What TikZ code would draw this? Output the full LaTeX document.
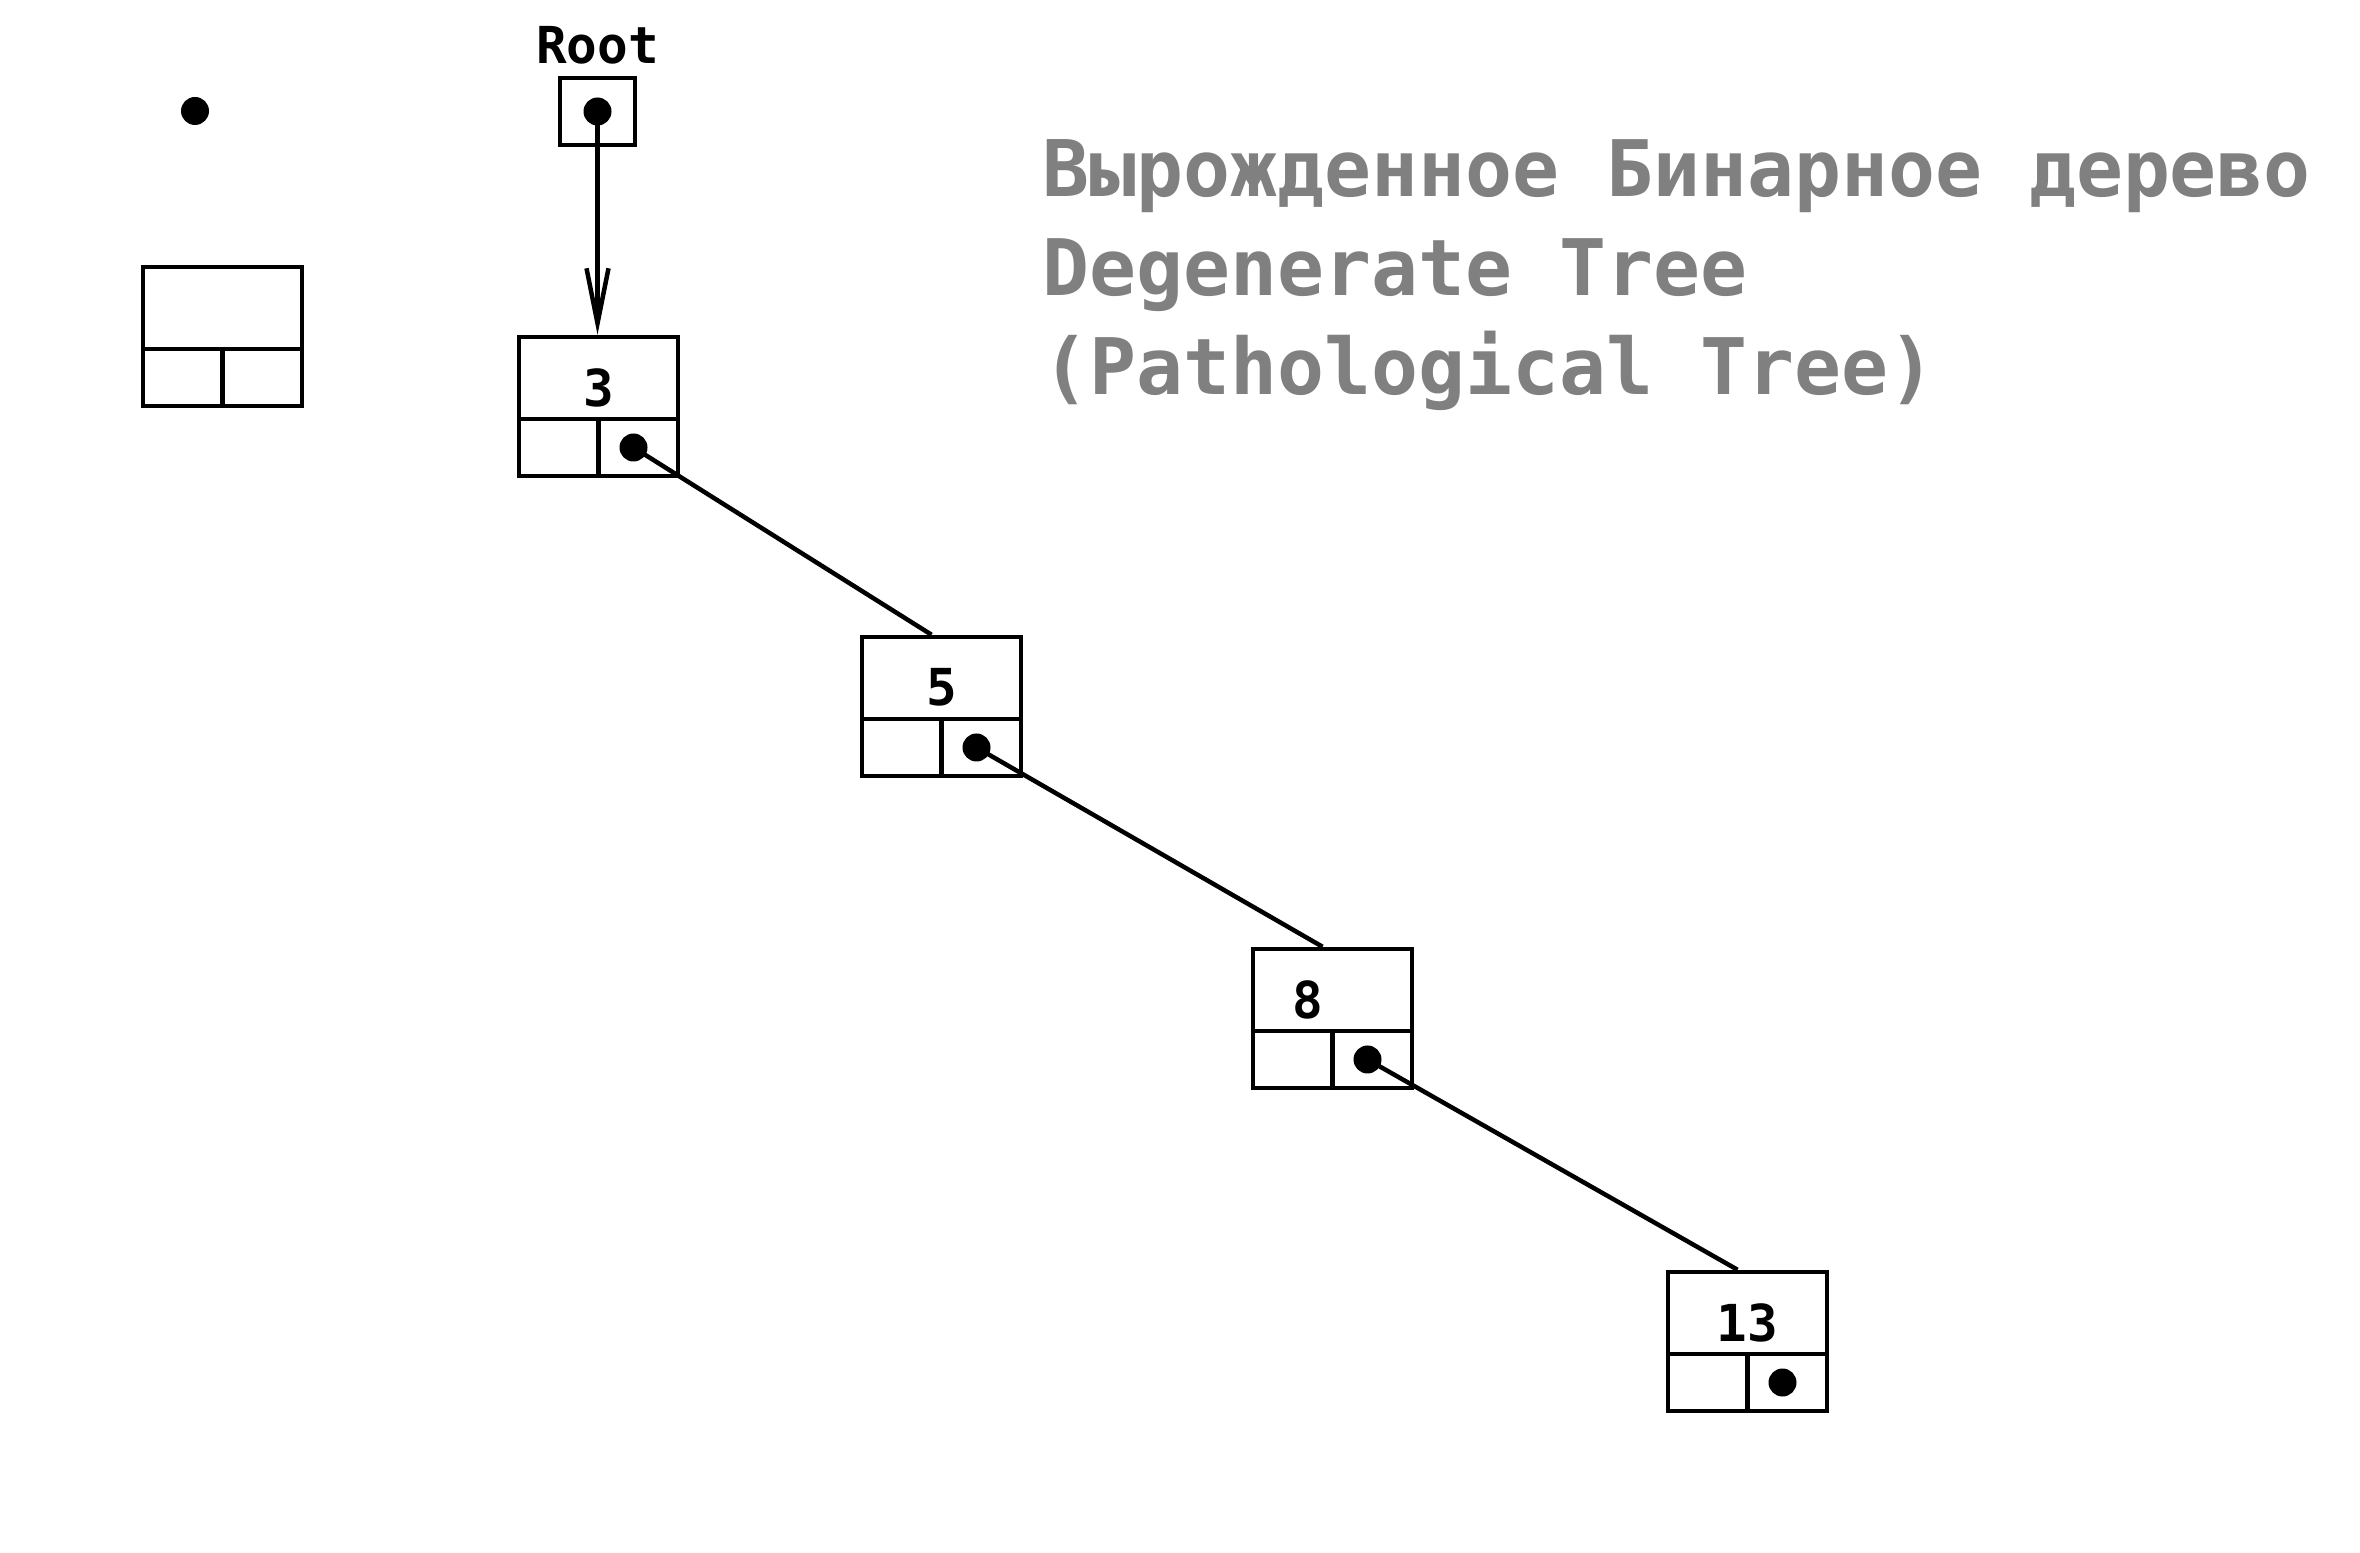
\documentclass[tikz,border=0pt]{standalone}
\usepackage{fontspec}
\setmonofont{DejaVu Sans Mono}
\usetikzlibrary{arrows.meta,positioning}

\definecolor{titlegray}{RGB}{128,128,128}

\tikzset{
  cell/.style={draw, line width=0.045cm, rectangle, minimum width=1.59cm, minimum height=1.39cm, inner sep=0pt},
  ptr/.style={draw, line width=0.045cm, rectangle, minimum width=0.75cm, minimum height=0.67cm, inner sep=0pt},
  link/.style={line width=0.045cm},
  numtext/.style={font=\ttfamily\bfseries\fontsize{14.5}{17}\selectfont, inner sep=0pt},
  titletext/.style={font=\ttfamily\bfseries\fontsize{22.2}{26}\selectfont, text=titlegray, anchor=base west, inner sep=0pt}
}

\begin{document}
\begin{tikzpicture}
\useasboundingbox (0,0) rectangle (23.6,15.52);

% Free pointer dot
\fill (1.95,14.41) circle (0.14);

% Root pointer
\node[ptr] (root) at (5.975,14.405) {};
\node[numtext, above=0.11cm of root] (rootlabel) {Root};
\coordinate (rootdot) at (root.center);
\fill (rootdot) circle (0.14);

% Node boxes: data on top, two links below
\foreach \n/\x/\y in {blank/2.225/12.155, n3/5.985/11.455, n5/9.415/8.455, n8/13.325/5.335, n13/17.475/2.105} {
    \node[cell] (\n) at (\x,\y) {};
    \draw[link] ([yshift=-0.125cm]\n.west) -- ([yshift=-0.125cm]\n.east);
    \draw[link] ([yshift=-0.125cm]\n.center) -- (\n.south);
}

% Values and right pointers
\foreach \n/\v/\dx in {n3/3/0, n5/5/0, n8/8/-0.245, n13/13/0} {
    \node[numtext] (\n-val) at ([xshift=\dx cm, yshift=0.19cm]\n.center) {\v};
    \coordinate (\n-dot) at ([xshift=0.35cm, yshift=-0.41cm]\n.center);
    \fill (\n-dot) circle (0.14);
}

% Links
\draw[link, -{Straight Barb[length=0.55cm,width=0.22cm]}] (rootdot) -- (rootdot |- n3.north);
\foreach \a/\b in {n3/n5, n5/n8, n8/n13}
    \draw[link] (\a-dot) -- ([xshift=-0.1cm]\b.north);

% Title
\node[titletext] (title1) at (10.42,13.55) {Вырожденное Бинарное дерево};
\node[titletext] (title2) at (10.42,12.56) {Degenerate Tree};
\node[titletext] (title3) at (10.42,11.57) {(Pathological Tree)};

\end{tikzpicture}
\end{document}
